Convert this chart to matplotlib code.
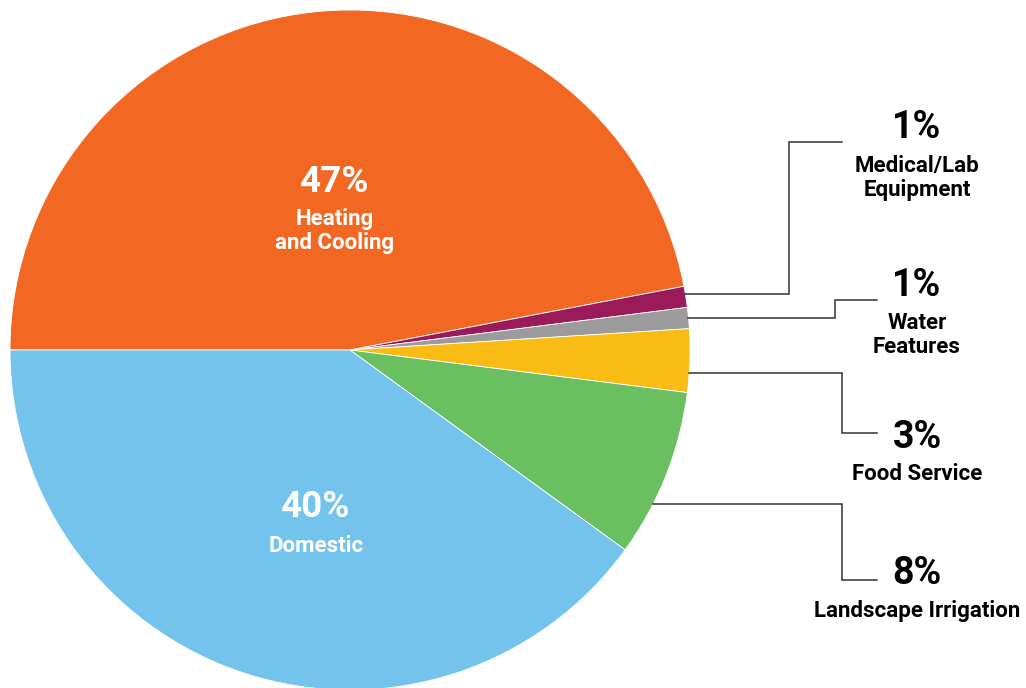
import numpy as np
import matplotlib.pyplot as plt

# share of water use by end use, in percent
labels = ["Heating\nand Cooling", "Medical/Lab\nEquipment", "Water\nFeatures",
          "Food Service", "Landscape Irrigation", "Domestic"]
values = [47, 1, 1, 3, 8, 40]
colors = ["#F26822", "#9B1B5A", "#9B9B9B", "#F8BC15", "#6ABF60", "#74C3EC"]

plt.rcParams['font.family'] = ['Roboto', 'DejaVu Sans']

W, H = 1026, 688
fig = plt.figure(figsize=(W / 100, H / 100), dpi=100)
ax = fig.add_axes([0, 0, 1, 1])

cx, cy, r = 350, H - 350, 340
ax.pie(values, colors=colors, startangle=180, counterclock=False,
       center=(cx, cy), radius=r, frame=True,
       wedgeprops=dict(edgecolor='white', linewidth=0.6))
ax.set_xlim(0, W)
ax.set_ylim(0, H)
ax.set_aspect('equal')
ax.axis('off')

# labels inside the two big slices
inside = {0: (335, 182, 231), 5: (316, 507, 546)}
for i, (x, ytop, ylab) in inside.items():
    ax.text(x, H - ytop, f"{values[i]}%", color='white', fontsize=26.5,
            fontweight='bold', ha='center', va='center')
    ax.text(x, H - ylab, labels[i], color='white',
            fontsize=16, fontweight='bold', ha='center', va='center',
            linespacing=1.15)

# callouts for the small slices: (anchor angle, elbow x, end y, text y)
callouts = {1: (9.4, 789, 142, 128), 2: (5.4, 835, 300, 285),
            3: (-3.9, 842, 433, 437), 4: (-27.0, 842, 580, 574)}
for i, (ang, ex, ey, ty) in callouts.items():
    a = np.radians(ang)
    x0 = cx + r * np.cos(a)
    y0 = cy + r * np.sin(a)
    x_end = 842 if i == 1 else 877
    ax.plot([x0, ex, ex, x_end], [y0, y0, H - ey, H - ey], color='#333333',
            lw=1.1, solid_joinstyle='miter')
    ax.text(917, H - ty, f"{values[i]}%", color='black', fontsize=27,
            fontweight='bold', ha='center', va='center')
    nl = labels[i].count('\n')
    ax.text(917, H - (ty + 37 + 13 * nl), labels[i], color='black', fontsize=16,
            fontweight='bold', ha='center', va='center', linespacing=1.15)

fig.savefig("out.png", dpi=100)
